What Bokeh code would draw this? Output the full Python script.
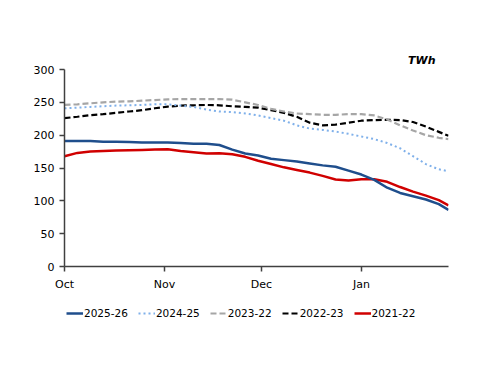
from bokeh.plotting import figure
from bokeh.models import Legend, LegendItem, FixedTicker, Range1d, Title
from bokeh.layouts import column
from bokeh.embed import file_html
from bokeh.resources import INLINE

days = [0, 4, 8, 12, 16, 20, 24, 28, 32, 36, 40, 44, 48, 52, 56, 60, 64, 68, 72, 76,
        80, 84, 88, 92, 96, 100, 104, 108, 112, 116, 119]

s2025_26 = [191, 191, 191, 190, 190, 189.5, 189, 189, 189, 188, 187, 187, 185, 178, 172,
            169, 164, 162, 160, 157, 154, 152, 146, 140, 132, 120, 112, 107, 102, 95, 86]
s2024_25 = [241, 242, 243, 244, 245, 245.5, 246, 247, 247, 245, 243, 239, 236, 235, 233,
            230, 226, 222, 215, 210, 208, 205.5, 202, 198, 194, 188, 180, 168, 156, 148, 145]
s2023_22 = [246, 247, 248.5, 250, 251, 251.5, 252.5, 253.5, 254.5, 255, 255, 255, 255, 254, 250,
            246, 240, 236, 233, 232, 231, 231, 232, 232, 230, 224, 215, 207, 200, 196, 194]
s2022_23 = [226, 228, 230.5, 232, 234, 236, 238, 241, 243.5, 245, 245.5, 246, 245.5, 244, 243,
            242, 238, 234, 228, 219, 215, 216, 219, 222, 223, 223.5, 223, 220, 213, 205, 199]
s2021_22 = [168, 173, 175, 176, 176.5, 177, 177.5, 178, 178.5, 176, 174, 172, 172.5, 171, 167,
            161, 156, 151, 147, 143, 138, 132.5, 131, 133, 133, 129, 121, 114, 108, 101, 93]

series_labels = ["2025-26", "2024-25", "2023-22", "2022-23", "2021-22"]
month_ticks = [0, 31, 61, 92]
month_labels = ["Oct", "Nov", "Dec", "Jan"]
y_ticks = [0, 50, 100, 150, 200, 250, 300]
unit_label = "TWh"

FONT = "DejaVu Sans"

styles = [
    dict(line_color="#1f4e8c", line_width=2.5),
    dict(line_color="#7fb0ea", line_width=2, line_dash="2 3"),
    dict(line_color="#a6a6a6", line_width=2.2, line_dash="6 3"),
    dict(line_color="#000000", line_width=2.2, line_dash="6 3"),
    dict(line_color="#d00000", line_width=2.5),
]
values = [s2025_26, s2024_25, s2023_22, s2022_23, s2021_22]

p = figure(frame_width=384, frame_height=197, output_backend="svg", toolbar_location=None,
           x_range=Range1d(0, 119), y_range=Range1d(0, 300),
           min_border_left=64, min_border_right=44, min_border_top=69, min_border_bottom=30)
p.outline_line_color = None
p.xgrid.grid_line_color = None
p.ygrid.grid_line_color = None

p.title = Title(text=unit_label, align="right", offset=13, standoff=5,
                text_font=FONT, text_font_size="11px", text_font_style="bold italic",
                text_color="#000000")

p.xaxis.ticker = FixedTicker(ticks=month_ticks)
p.xaxis.major_label_overrides = {t: l for t, l in zip(month_ticks, month_labels)}
p.yaxis.ticker = FixedTicker(ticks=y_ticks)
for ax in (p.xaxis, p.yaxis):
    ax.axis_line_color = "#404040"
    ax.axis_line_width = 1.5
    ax.major_tick_line_color = "#404040"
    ax.major_tick_line_width = 1.5
    ax.major_tick_out = 5
    ax.major_tick_in = 0
    ax.minor_tick_line_color = None
    ax.major_label_text_font = FONT
    ax.major_label_text_font_size = "11px"
    ax.major_label_text_color = "#000000"
p.xaxis.major_label_standoff = 6
p.yaxis.major_label_standoff = 5

# draw oldest first so the current season is on top
for vals, st in reversed(list(zip(values, styles))):
    p.line(days, vals, **st)

# legend panel: a separate, axis-free figure below the chart; its lines use the
# same series but lie outside its (empty) visible range, so only the legend shows
pl = figure(frame_width=384, frame_height=34, output_backend="svg", toolbar_location=None,
            x_range=Range1d(0, 119), y_range=Range1d(1000, 1001),
            min_border_left=64, min_border_right=44, min_border_top=0, min_border_bottom=0)
pl.axis.visible = False
pl.grid.visible = False
pl.outline_line_color = None
items = []
for lab, vals, st in zip(series_labels, values, styles):
    r = pl.line(days, vals, **st)
    items.append(LegendItem(label=lab, renderers=[r]))
legend = Legend(items=items, orientation="horizontal", location=(2, 7),
                label_text_font=FONT, label_text_font_size="10.5px",
                label_text_color="#000000",
                glyph_width=17, label_standoff=1, spacing=10,
                border_line_color=None, background_fill_alpha=0,
                padding=4, margin=0)
pl.add_layout(legend)

layout = column(p, pl, spacing=0)
open("out.html", "w").write(file_html(layout, INLINE))
